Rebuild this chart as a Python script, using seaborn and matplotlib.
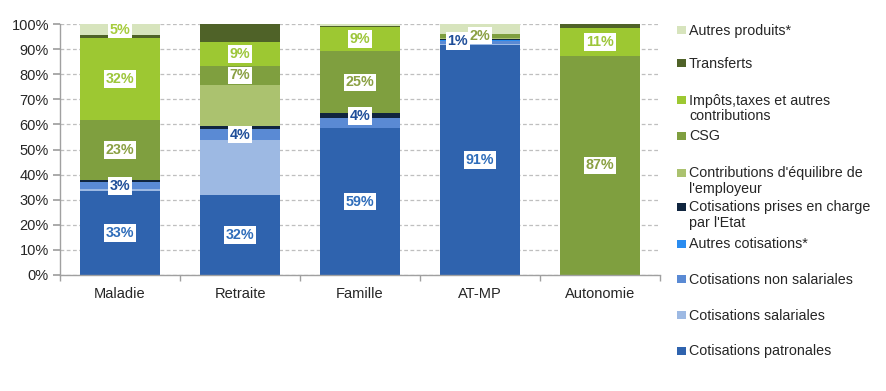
import matplotlib
matplotlib.use("Agg")
import matplotlib.pyplot as plt
from matplotlib.patches import Rectangle
import seaborn as sns
import numpy as np

# ---------------- data (percent of resources) ----------------
categories = ["Maladie", "Retraite", "Famille", "AT-MP", "Autonomie"]

cot_patronales = [33.5, 31.7, 58.5, 91.5, 0.0]
cot_salariales = [0.6, 22.1, 0.0, 0.5, 0.0]
cot_non_salariales = [2.8, 4.2, 4.0, 1.3, 0.0]
autres_cotisations = [0.2, 0.2, 0.2, 0.3, 0.0]
cot_etat = [0.8, 1.0, 1.7, 0.6, 0.0]
contrib_employeur = [0.0, 16.5, 0.0, 0.3, 0.0]
csg = [23.9, 7.7, 24.8, 1.7, 87.3]
impots_taxes = [32.6, 9.3, 9.6, 0.0, 11.2]
transferts = [1.2, 7.3, 0.4, 0.0, 1.5]
autres_produits = [4.4, 0.0, 0.8, 3.8, 0.0]

# value labels shown on the chart
lbl_patronales = ["33%", "32%", "59%", "91%", None]
lbl_non_salariales = ["3%", "4%", "4%", "1%", None]
lbl_csg = ["23%", "7%", "25%", "2%", "87%"]
lbl_impots = ["32%", "9%", "9%", None, "11%"]
lbl_autres_produits = ["5%", None, None, None, None]

y_ticks = [0, 10, 20, 30, 40, 50, 60, 70, 80, 90, 100]
y_tick_labels = [f"{v}%" for v in y_ticks]

# ---------------- style ----------------
series = [
    ("Cotisations patronales", cot_patronales, "#2F63AE", lbl_patronales, "#2F6DBA"),
    ("Cotisations salariales", cot_salariales, "#9DB9E3", None, None),
    ("Cotisations non salariales", cot_non_salariales, "#5A8AD4", lbl_non_salariales, "#1F4E99"),
    ("Autres cotisations*", autres_cotisations, "#2A8CF0", None, None),
    ("Cotisations prises en charge\npar l'Etat", cot_etat, "#10253F", None, None),
    ("Contributions d'équilibre de\nl'employeur", contrib_employeur, "#ABC26F", None, None),
    ("CSG", csg, "#7F9F3F", lbl_csg, "#8AA043"),
    ("Impôts,taxes et autres\ncontributions", impots_taxes, "#9DC832", lbl_impots, "#9DC63B"),
    ("Transferts", transferts, "#4F6228", None, None),
    ("Autres produits*", autres_produits, "#D7E4BD", lbl_autres_produits, "#A6CC3C"),
]
# label offsets in points (layout only)
label_offsets = {("Cotisations non salariales", 2): (0, 5),
                 ("Cotisations non salariales", 3): (-16, 1)}

sns.set_theme(style="white")
plt.rcParams["font.family"] = ["Liberation Sans", "DejaVu Sans"]

W, H = 886, 391
fig = plt.figure(figsize=(W / 100, H / 100), dpi=100)
ax = fig.add_axes([60 / W, 1 - 275 / H, 600 / W, 251 / H])

bottom = np.zeros(len(categories))
for name, vals, col, lbls, lcol in series:
    sns.barplot(x=categories, y=vals, order=categories, bottom=bottom, color=col,
                width=0.667, linewidth=0, edgecolor="none", errorbar=None,
                saturation=1, ax=ax, zorder=2)
    if lbls is not None:
        for i, (v, t) in enumerate(zip(vals, lbls)):
            if t is None:
                continue
            off = label_offsets.get((name, i), (0, 0))
            ax.annotate(t, xy=(i, bottom[i] + v / 2), xytext=off,
                        textcoords="offset points", ha="center", va="center",
                        fontsize=10.3, fontweight="bold", color=lcol, zorder=5,
                        bbox=dict(boxstyle="square,pad=0.12", fc="white", ec="none"))
    bottom = bottom + np.array(vals)

ax.set_xlim(-0.5, len(categories) - 0.5)
ax.set_ylim(0, 100)
ax.set_yticks(y_ticks)
ax.set_yticklabels(y_tick_labels)
ax.yaxis.grid(True, color="#BFBFBF", linestyle=(0, (3, 2)), linewidth=0.9, zorder=0)
ax.set_axisbelow(True)
ax.set_xlabel("")
ax.set_ylabel("")

for s in ["top", "right"]:
    ax.spines[s].set_visible(False)
for s in ["left", "bottom"]:
    ax.spines[s].set_color("#A0A0A0")
    ax.spines[s].set_linewidth(1.0)

ax.tick_params(axis="y", which="major", direction="out", length=5, color="#A0A0A0",
               labelsize=10.5, labelcolor="#262626", pad=3, left=True)
ax.set_xticks(np.arange(len(categories)))
ax.set_xticks(np.arange(len(categories) + 1) - 0.5, minor=True)
ax.tick_params(axis="x", which="major", length=0, labelsize=10.5, labelcolor="#262626", pad=9)
ax.tick_params(axis="x", which="minor", direction="out", length=4, color="#A0A0A0", bottom=True)

# ---------------- legend (drawn at the right, Excel-like) ----------------
legend_order = ["Autres produits*", "Transferts", "Impôts,taxes et autres\ncontributions", "CSG",
                "Contributions d'équilibre de\nl'employeur", "Cotisations prises en charge\npar l'Etat",
                "Autres cotisations*", "Cotisations non salariales", "Cotisations salariales",
                "Cotisations patronales"]
legend_y = [30, 63, 100, 136, 173, 207, 244, 279, 315, 351]
colors = {name: col for name, _, col, _, _ in series}
for name, yy in zip(legend_order, legend_y):
    fig.add_artist(Rectangle((677 / W, 1 - (yy + 4) / H), 9 / W, 8 / H,
                             transform=fig.transFigure, fc=colors[name], ec="none"))
    fig.text(689 / W, 1 - (yy - 6.5) / H, name, ha="left", va="top", fontsize=10.3,
             color="#262626", linespacing=1.18)

fig.savefig("out.png", dpi=100)
